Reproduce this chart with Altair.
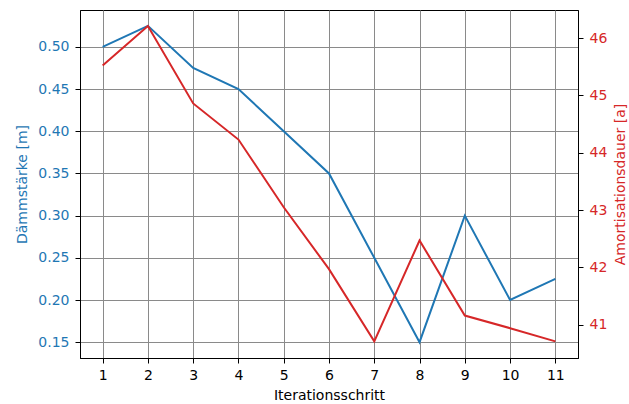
import altair as alt
import pandas as pd

schritte = [1, 2, 3, 4, 5, 6, 7, 8, 9, 10, 11]
daemmstaerke = [0.5, 0.525, 0.475, 0.45, 0.4, 0.35, 0.25, 0.15, 0.3, 0.2, 0.225]
amortisation = [45.52, 46.21, 44.86, 44.23, 43.05, 41.97, 40.71, 42.47, 41.16, 40.94, 40.71]
left_ticks = [0.15, 0.20, 0.25, 0.30, 0.35, 0.40, 0.45, 0.50]
right_ticks = [41, 42, 43, 44, 45, 46]

df = pd.DataFrame({"x": schritte, "d": daemmstaerke, "a": amortisation})

BLUE = "#1f77b4"
RED = "#d62728"
FONT = "DejaVu Sans"
FS = 14

xenc = alt.X("x:Q", scale=alt.Scale(domain=[0.5, 11.5], nice=False, zero=False),
             axis=alt.Axis(values=schritte, title="Iterationsschritt", grid=True,
                           gridColor="#8a8a8a", gridWidth=1, tickSize=5, tickColor="black",
                           domainColor="black", labelFontSize=FS, titleFontSize=FS,
                           labelColor="black", titleColor="black", labelPadding=5,
                           titlePadding=6, titleFontWeight="normal", format="d",
                           labelFont=FONT, titleFont=FONT))

left = alt.Chart(df).mark_line(color=BLUE, strokeWidth=2).encode(
    x=xenc,
    y=alt.Y("d:Q", scale=alt.Scale(domain=[0.13125, 0.54375], nice=False, zero=False),
            axis=alt.Axis(values=left_ticks, format=".2f", title="Dämmstärke [m]",
                          grid=True, gridColor="#8a8a8a", gridWidth=1, tickSize=5,
                          tickColor="black", domainColor="black", labelColor=BLUE,
                          titleColor=BLUE, labelFontSize=FS, titleFontSize=FS,
                          labelPadding=6, titlePadding=8, titleFontWeight="normal",
                          labelFont=FONT, titleFont=FONT)),
)

right = alt.Chart(df).mark_line(color=RED, strokeWidth=2).encode(
    x=xenc,
    y=alt.Y("a:Q", scale=alt.Scale(domain=[40.42, 46.49], nice=False, zero=False),
            axis=alt.Axis(orient="right", values=right_ticks, format="d",
                          title="Amortisationsdauer [a]", grid=False, tickSize=5,
                          tickColor="black", domainColor="black", labelColor=RED,
                          titleColor=RED, labelFontSize=FS, titleFontSize=FS,
                          labelPadding=6, titlePadding=7, titleFontWeight="normal",
                          titleAngle=270, titleBaseline="top",
                          labelFont=FONT, titleFont=FONT)),
)

chart = alt.layer(left, right).resolve_scale(y="independent").properties(
    width=498, height=348,
    autosize=alt.AutoSizeParams(type="none"),
    padding={"left": 80, "top": 10, "right": 51, "bottom": 46},
    background="white",
).configure_view(stroke="black", strokeWidth=1)

chart.save("out.html", embed_options={"renderer": "svg", "actions": False})
